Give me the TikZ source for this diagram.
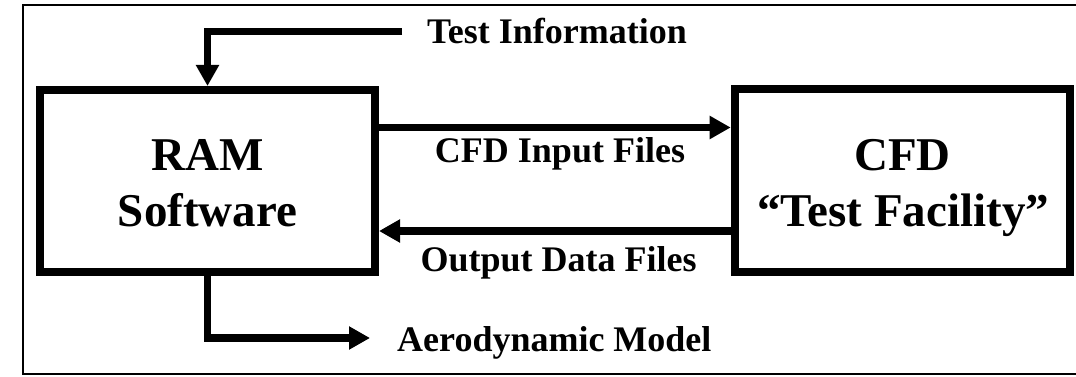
\documentclass[tikz,border=0pt]{standalone}
\usepackage{fontspec}
\setmainfont{Liberation Serif}
\usetikzlibrary{arrows.meta}
\tikzset{
  box/.style={draw, line width=8pt, minimum width=335pt, minimum height=182pt, inner sep=0pt},
  big/.style={font=\fontsize{47}{52}\selectfont\bfseries, inner sep=0pt},
  lbl/.style={font=\fontsize{36}{40}\selectfont\bfseries, inner sep=0pt},
  arr/.style={line width=7.5pt, -{Triangle[length=21pt,width=22pt]}},
  plain/.style={line width=7.5pt}
}
\begin{document}
\begin{tikzpicture}[x=1pt,y=-1pt]
\useasboundingbox (0,0) rectangle (1076,377);
\clip (0,0) rectangle (1076,377);
% outer frame (right side cut off)
\draw[line width=2pt] (22.7,4.7) rectangle (1100,374);
% boxes
\node[box] (ram) at (207.5,181) {};
\node[box] (cfd) at (902.2,180.5) {};
% box texts
\node[big, anchor=base] (ramt1) at (207.5,170) {RAM};
\node[big, anchor=base] (ramt2) at (207.5,226.7) {Software};
\node[big, anchor=base] (cfdt1) at (902.5,170) {CFD};
\node[big, anchor=base] (cfdt2) at (903,226.7) {“Test Facility”};
% labels
\node[lbl, anchor=base west] (ti) at (427,43.3) {Test Information};
\node[lbl, anchor=base] (cin) at (560,163) {CFD Input Files};
\node[lbl, anchor=base] (cout) at (558.5,271.7) {Output Data Files};
\node[lbl, anchor=base west] (aero) at (397,351.7) {Aerodynamic Model};
% connectors
\coordinate (tistart) at (402,31.5);
\draw[arr] (tistart) -| (ram.north);
\coordinate (aerotip) at (370,338);
\draw[arr] (ram.south) |- (aerotip);
\draw[arr] (ram.east |- 0,127.5) -- (cfd.west |- 0,127.5);
\draw[arr] (cfd.west |- 0,231) -- (ram.east |- 0,231);
\end{tikzpicture}
\end{document}
